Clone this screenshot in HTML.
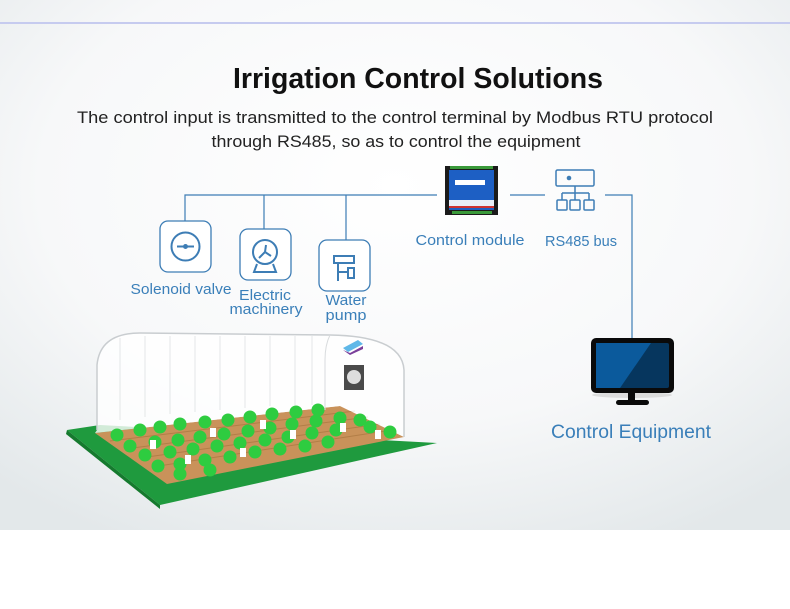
<!DOCTYPE html>
<html><head><meta charset="utf-8"><style>
html,body{margin:0;padding:0;background:#fff;width:790px;height:609px;overflow:hidden}
svg{display:block}
text{font-family:"Liberation Sans",sans-serif}
</style></head><body>
<svg width="790" height="609" viewBox="0 0 790 609" xmlns="http://www.w3.org/2000/svg">
<defs>
<radialGradient id="bg" cx="0.5" cy="0.35" r="0.75">
<stop offset="0" stop-color="#ffffff"/><stop offset="0.6" stop-color="#f7f8f9"/><stop offset="1" stop-color="#e3e8ea"/>
</radialGradient>
</defs>
<rect x="0" y="0" width="790" height="530" fill="url(#bg)"/>
<rect x="0" y="22" width="790" height="2" fill="#c6cbef"/>

<text x="418" y="88" text-anchor="middle" font-size="29" font-weight="bold" fill="#111" textLength="370" lengthAdjust="spacingAndGlyphs">Irrigation Control Solutions</text>
<text x="395" y="123" text-anchor="middle" font-size="17" fill="#222" textLength="636" lengthAdjust="spacingAndGlyphs">The control input is transmitted to the control terminal by Modbus RTU protocol</text>
<text x="396" y="147" text-anchor="middle" font-size="17" fill="#222" textLength="369" lengthAdjust="spacingAndGlyphs">through RS485, so as to control the equipment</text>

<g stroke="#3d7db5" stroke-width="1.2" fill="none">
<path d="M185 221V195H437M264 195V229M346 195V240"/>
<path d="M510 195H545M605 195H632V340"/>
</g>

<g stroke="#3d7db5" stroke-width="1.3" fill="#fff">
<rect x="160" y="221" width="51" height="51" rx="8"/>
<rect x="240" y="229" width="51" height="51" rx="8"/>
<rect x="319" y="240" width="51" height="51" rx="8"/>
</g>
<g stroke="#3d7db5" stroke-width="2" fill="none">
<circle cx="185.5" cy="246.5" r="14"/><path d="M177 246.5H194"/>
<circle cx="265" cy="252" r="12"/><path d="M257 264L254 272H276L273 264M265 252L259 258M265 252L271 256M265 252L266 245"/>
<path d="M334 256H354V263H334ZM338 263V281M338 272H348M348 268H354V278H348Z"/>
</g>
<circle cx="185.5" cy="246.5" r="2.5" fill="#3d7db5"/>
<g font-size="15" fill="#3a7fb9" text-anchor="middle">
<text x="181" y="294" textLength="101" lengthAdjust="spacingAndGlyphs">Solenoid valve</text>
<text x="265" y="300" textLength="52" lengthAdjust="spacingAndGlyphs">Electric</text>
<text x="266" y="314" textLength="73" lengthAdjust="spacingAndGlyphs">machinery</text>
<text x="346" y="305" textLength="41" lengthAdjust="spacingAndGlyphs">Water</text>
<text x="346" y="320" textLength="41" lengthAdjust="spacingAndGlyphs">pump</text>
<text x="470" y="245" textLength="109" lengthAdjust="spacingAndGlyphs">Control module</text>
<text x="581" y="246" textLength="72" lengthAdjust="spacingAndGlyphs">RS485 bus</text>
</g>

<rect x="445" y="166" width="53" height="49" fill="#1b1b1b"/>
<rect x="449" y="170" width="45" height="40" fill="#1d5fc4"/>
<rect x="455" y="180" width="30" height="5" fill="#fff"/>
<rect x="449" y="200" width="45" height="6" fill="#e8eef8"/>
<rect x="449" y="206" width="45" height="2" fill="#c33"/>
<rect x="450" y="166" width="43" height="3" fill="#3a9a3a"/>
<rect x="452" y="211" width="40" height="3" fill="#3a9a3a"/>
<g stroke="#3d7db5" stroke-width="1.5" fill="none">
<rect x="556" y="170" width="38" height="16" rx="1.5"/>
<path d="M575 186V193M562 193H589M562 193V200M575 193V200M589 193V200"/>
<rect x="557" y="200" width="10" height="10" rx="1"/><rect x="570" y="200" width="10" height="10" rx="1"/><rect x="584" y="200" width="10" height="10" rx="1"/>
</g>
<circle cx="569" cy="178" r="2.3" fill="#3d7db5"/>

<ellipse cx="632" cy="395" rx="40" ry="3" fill="#ccc" opacity="0.6"/>
<rect x="591" y="338" width="83" height="55" rx="5" fill="#0a0a0a"/>
<rect x="596" y="343" width="73" height="45" rx="2" fill="#06365e"/>
<polygon points="596,343 651,343 620,388 596,388" fill="#0b5a9c"/>
<rect x="628" y="393" width="7" height="9" fill="#0a0a0a"/>
<rect x="616" y="400" width="33" height="5" rx="2.5" fill="#0a0a0a"/>
<text x="631" y="438" text-anchor="middle" font-size="19" fill="#3a7fb9" textLength="160" lengthAdjust="spacingAndGlyphs">Control Equipment</text>

<!-- greenhouse -->
<polygon points="67,430 100,425 437,443 160,505" fill="#1f9a3e"/>
<polygon points="67,430 160,505 160,509 66,434" fill="#157a2e"/>
<polygon points="95,433 340,406 404,437 167,484" fill="#c9925a"/>
<g stroke="#a9763f" stroke-width="1" opacity="0.7">
<path d="M110 441L355 411M125 449L368 417M140 458L380 424M152 467L392 430"/>
</g>
<path d="M97 430V365Q100 333 140 333L330 335Q402 336 404 370V437L340 406L95 433Z" fill="#ffffff" opacity="0.8"/>
<path d="M97 430V365Q100 333 140 333L330 335Q402 336 404 370V437" fill="none" stroke="#c9cdd0" stroke-width="1.5"/>
<path d="M330 335Q325 345 325 360V410" fill="none" stroke="#d8dbdd"/>
<g stroke="#e4e6e8" stroke-width="1" fill="none">
<path d="M120 338V420M145 336V417M170 336V414M195 336V412M220 336V410M245 336V408M270 336V406M295 336V405M312 336V405"/>
</g>
<rect x="344" y="365" width="20" height="25" fill="#4a4a4a"/>
<circle cx="354" cy="377" r="7" fill="#ddd"/>
<polygon points="343,348 358,340 363,344 348,352" fill="#5fb8e8"/>
<polygon points="343,350 350,353 363,346 363,349 350,355" fill="#7a3f9a"/>
<g fill="#2ecc40">
<circle cx="117" cy="435" r="6.5"/><circle cx="140" cy="430" r="6.5"/><circle cx="160" cy="427" r="6.5"/><circle cx="180" cy="424" r="6.5"/><circle cx="205" cy="422" r="6.5"/><circle cx="228" cy="420" r="6.5"/><circle cx="250" cy="417" r="6.5"/><circle cx="272" cy="414" r="6.5"/><circle cx="296" cy="412" r="6.5"/><circle cx="318" cy="410" r="6.5"/>
<circle cx="130" cy="446" r="6.5"/><circle cx="155" cy="442" r="6.5"/><circle cx="178" cy="440" r="6.5"/><circle cx="200" cy="437" r="6.5"/><circle cx="224" cy="434" r="6.5"/><circle cx="248" cy="431" r="6.5"/><circle cx="270" cy="428" r="6.5"/><circle cx="292" cy="424" r="6.5"/><circle cx="316" cy="421" r="6.5"/><circle cx="340" cy="418" r="6.5"/><circle cx="360" cy="420" r="6.5"/>
<circle cx="145" cy="455" r="6.5"/><circle cx="170" cy="452" r="6.5"/><circle cx="193" cy="449" r="6.5"/><circle cx="217" cy="446" r="6.5"/><circle cx="240" cy="443" r="6.5"/><circle cx="265" cy="440" r="6.5"/><circle cx="288" cy="437" r="6.5"/><circle cx="312" cy="433" r="6.5"/><circle cx="336" cy="430" r="6.5"/><circle cx="370" cy="427" r="6.5"/><circle cx="390" cy="432" r="6.5"/>
<circle cx="158" cy="466" r="6.5"/><circle cx="180" cy="464" r="6.5"/><circle cx="205" cy="460" r="6.5"/><circle cx="230" cy="457" r="6.5"/><circle cx="255" cy="452" r="6.5"/><circle cx="280" cy="449" r="6.5"/><circle cx="305" cy="446" r="6.5"/><circle cx="328" cy="442" r="6.5"/><circle cx="180" cy="474" r="6.5"/><circle cx="210" cy="470" r="6.5"/>
</g>
<g fill="#fff">
<rect x="150" y="440" width="6" height="9"/><rect x="210" y="428" width="6" height="9"/><rect x="260" y="420" width="6" height="9"/><rect x="290" y="430" width="6" height="9"/><rect x="185" y="455" width="6" height="9"/><rect x="240" y="448" width="6" height="9"/><rect x="340" y="423" width="6" height="9"/><rect x="375" y="430" width="6" height="9"/>
</g>
</svg>
</body></html>
